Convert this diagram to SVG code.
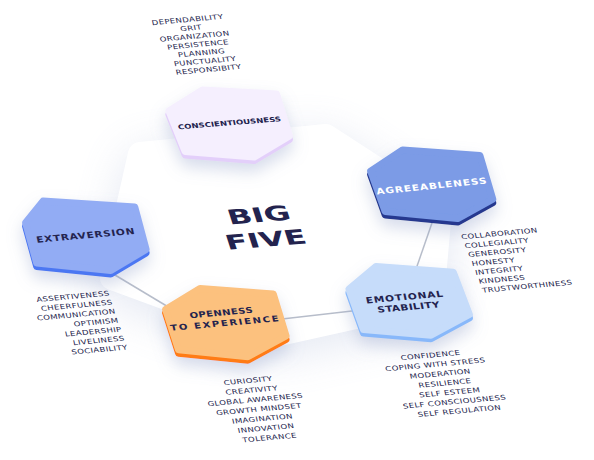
<svg xmlns="http://www.w3.org/2000/svg" xmlns:xlink="http://www.w3.org/1999/xlink" width="594" height="460" viewBox="0 0 594 460">
<style>
.t{font-family:"DejaVu Sans","Liberation Sans",sans-serif;font-size:8.5px;letter-spacing:0.35px;fill:#22234C}
.lb{font-family:"DejaVu Sans","Liberation Sans",sans-serif;font-weight:bold;fill:#23234E}
.hex{stroke-width:7;stroke-linejoin:round}
.c-edge{fill:#E3CFFA;stroke:#E3CFFA}.c-face{fill:#F5EFFE;stroke:#F5EFFE}
.a-edge{fill:#25398F;stroke:#25398F}.a-face{fill:#7B9BE6;stroke:#7B9BE6}
.x-edge{fill:#4C77F2;stroke:#4C77F2}.x-face{fill:#92ACF4;stroke:#92ACF4}
.o-edge{fill:#FF7B12;stroke:#FF7B12}.o-face{fill:#FCC17E;stroke:#FCC17E}
.e-edge{fill:#88B8FA;stroke:#88B8FA}.e-face{fill:#C6DCFA;stroke:#C6DCFA}
.conn{stroke:#B7BDCA;stroke-width:1.5;fill:none}
</style>
<defs>
<filter id="sh" x="-40%" y="-40%" width="180%" height="200%">
<feDropShadow dx="0" dy="8" stdDeviation="8" flood-color="#8C9AC6" flood-opacity="0.35"/>
</filter>
<filter id="blur" x="-30%" y="-30%" width="160%" height="160%">
<feGaussianBlur stdDeviation="22"/>
</filter>
<polygon id="hc" points="202.5,91.4 276.6,95.4 289.4,137.5 254.3,158.5 185.1,152.9 168.9,112.5"/>
<polygon id="ha" points="402.6,151.4 479.9,157 492.8,200.8 457.6,220.1 385.2,213 370.6,172.6"/>
<polygon id="hx" points="43,202.6 134.8,208.6 146.1,250.9 110.8,271.9 36.7,264.6 25.6,224.2"/>
<polygon id="ho" points="200,290 273.3,295.4 286.1,337.4 247.9,358.3 178.5,351.3 165.6,311"/>
<polygon id="he" points="376,268 453.3,273.8 469.4,315.9 431,336.7 363.4,331.1 348.9,290.8"/>
<polygon id="big" points="140,154 326,136 440,210 432,300 270,336 112,278"/>
</defs>
<rect width="594" height="460" fill="#FFFFFF"/>
<g id="center">
<use xlink:href="#big" fill="#C3CCE3" stroke="#C3CCE3" stroke-width="24" stroke-linejoin="round" opacity="0.45" filter="url(#blur)" y="10"/>
<use xlink:href="#big" fill="#FFFFFF" stroke="#FFFFFF" stroke-width="24" stroke-linejoin="round"/>
<text class="lb" font-size="32" text-anchor="middle" transform="matrix(1 -0.08 0.2 0.62 261 222)">BIG</text>
<text class="lb" font-size="32" text-anchor="middle" transform="matrix(1 -0.08 0.2 0.62 268 246.5)">FIVE</text>
</g>
<g id="connectors">
<line class="conn" x1="110" y1="272" x2="170" y2="308"/>
<line class="conn" x1="282" y1="319" x2="352" y2="311"/>
<line class="conn" x1="433" y1="220" x2="415" y2="272"/>
</g>
<g id="conscientiousness">
<g filter="url(#sh)">
<use xlink:href="#hc" class="hex c-edge" y="2"/>
<use xlink:href="#hc" class="hex c-face" y="-1.5"/>
</g>
<text class="lb" font-size="8.5" text-anchor="middle" textLength="103" transform="matrix(1 -0.08 0.18 0.78 230 125.3)">CONSCIENTIOUSNESS</text>
<text class="t" text-anchor="middle" transform="matrix(1 -0.09 0.18 0.78 188 22)">DEPENDABILITY</text>
<text class="t" text-anchor="middle" transform="matrix(1 -0.09 0.18 0.78 191.5 30.3)">GRIT</text>
<text class="t" text-anchor="middle" transform="matrix(1 -0.09 0.18 0.78 195 38.6)">ORGANIZATION</text>
<text class="t" text-anchor="middle" transform="matrix(1 -0.09 0.18 0.78 198.5 46.9)">PERSISTENCE</text>
<text class="t" text-anchor="middle" transform="matrix(1 -0.09 0.18 0.78 202 55.2)">PLANNING</text>
<text class="t" text-anchor="middle" transform="matrix(1 -0.09 0.18 0.78 205.5 63.5)">PUNCTUALITY</text>
<text class="t" text-anchor="middle" transform="matrix(1 -0.09 0.18 0.78 209 71.8)">RESPONSIBITY</text>
</g>
<g id="agreeableness">
<g filter="url(#sh)">
<use xlink:href="#ha" class="hex a-edge" y="2"/>
<use xlink:href="#ha" class="hex a-face" y="-1.5"/>
</g>
<text class="lb" font-size="10.5" style="fill:#FFFFFF" text-anchor="middle" textLength="110" transform="matrix(1 -0.1 0.18 0.8 432 189)">AGREEABLENESS</text>
<text class="t" transform="matrix(1 -0.09 0.18 0.78 461.7 239.3)">COLLABORATION</text>
<text class="t" transform="matrix(1 -0.09 0.18 0.78 465.2 248.2)">COLLEGIALITY</text>
<text class="t" transform="matrix(1 -0.09 0.18 0.78 468.7 257.1)">GENEROSITY</text>
<text class="t" transform="matrix(1 -0.09 0.18 0.78 472.2 266)">HONESTY</text>
<text class="t" transform="matrix(1 -0.09 0.18 0.78 475.7 274.9)">INTEGRITY</text>
<text class="t" transform="matrix(1 -0.09 0.18 0.78 479.2 283.8)">KINDNESS</text>
<text class="t" transform="matrix(1 -0.09 0.18 0.78 482.7 292.7)">TRUSTWORTHINESS</text>
</g>
<g id="extraversion">
<g filter="url(#sh)">
<use xlink:href="#hx" class="hex x-edge" y="2"/>
<use xlink:href="#hx" class="hex x-face" y="-1.5"/>
</g>
<text class="lb" font-size="10.5" text-anchor="middle" textLength="98" transform="matrix(1 -0.09 0.18 0.8 86 238.3)">EXTRAVERSION</text>
<text class="t" text-anchor="end" transform="matrix(1 -0.09 0.18 0.78 110 295.5)">ASSERTIVENESS</text>
<text class="t" text-anchor="end" transform="matrix(1 -0.09 0.18 0.78 113 304.5)">CHEERFULNESS</text>
<text class="t" text-anchor="end" transform="matrix(1 -0.09 0.18 0.78 116 313.5)">COMMUNICATION</text>
<text class="t" text-anchor="end" transform="matrix(1 -0.09 0.18 0.78 119 322.5)">OPTIMISM</text>
<text class="t" text-anchor="end" transform="matrix(1 -0.09 0.18 0.78 122 331.5)">LEADERSHIP</text>
<text class="t" text-anchor="end" transform="matrix(1 -0.09 0.18 0.78 125 340.5)">LIVELINESS</text>
<text class="t" text-anchor="end" transform="matrix(1 -0.09 0.18 0.78 128 349.5)">SOCIABILITY</text>
</g>
<g id="openness">
<g filter="url(#sh)">
<use xlink:href="#ho" class="hex o-edge" y="2"/>
<use xlink:href="#ho" class="hex o-face" y="-1.5"/>
</g>
<text class="lb" font-size="10" text-anchor="middle" textLength="63" transform="matrix(1 -0.09 0.18 0.8 221.7 315.5)">OPENNESS</text>
<text class="lb" font-size="10" text-anchor="middle" textLength="108" transform="matrix(1 -0.09 0.18 0.8 225 326)">TO EXPERIENCE</text>
<text class="t" text-anchor="middle" transform="matrix(1 -0.09 0.18 0.78 248.5 383)">CURIOSITY</text>
<text class="t" text-anchor="middle" transform="matrix(1 -0.09 0.18 0.78 252.1 392.5)">CREATIVITY</text>
<text class="t" text-anchor="middle" transform="matrix(1 -0.09 0.18 0.78 255.7 402)">GLOBAL AWARENESS</text>
<text class="t" text-anchor="middle" transform="matrix(1 -0.09 0.18 0.78 259.3 411.5)">GROWTH MINDSET</text>
<text class="t" text-anchor="middle" transform="matrix(1 -0.09 0.18 0.78 262.9 421)">IMAGINATION</text>
<text class="t" text-anchor="middle" transform="matrix(1 -0.09 0.18 0.78 266.5 430.5)">INNOVATION</text>
<text class="t" text-anchor="middle" transform="matrix(1 -0.09 0.18 0.78 270.1 440)">TOLERANCE</text>
</g>
<g id="emotional-stability">
<g filter="url(#sh)">
<use xlink:href="#he" class="hex e-edge" y="2"/>
<use xlink:href="#he" class="hex e-face" y="-1.5"/>
</g>
<text class="lb" font-size="10.5" text-anchor="middle" textLength="77" transform="matrix(1 -0.09 0.18 0.8 405 300)">EMOTIONAL</text>
<text class="lb" font-size="10.5" text-anchor="middle" textLength="62" transform="matrix(1 -0.09 0.18 0.8 409 310)">STABILITY</text>
<text class="t" text-anchor="middle" transform="matrix(1 -0.09 0.18 0.78 431 357.5)">CONFIDENCE</text>
<text class="t" text-anchor="middle" transform="matrix(1 -0.09 0.18 0.78 435.8 366.8)">COPING WITH STRESS</text>
<text class="t" text-anchor="middle" transform="matrix(1 -0.09 0.18 0.78 440.6 376.1)">MODERATION</text>
<text class="t" text-anchor="middle" transform="matrix(1 -0.09 0.18 0.78 445.4 385.4)">RESILIENCE</text>
<text class="t" text-anchor="middle" transform="matrix(1 -0.09 0.18 0.78 450.2 394.7)">SELF ESTEEM</text>
<text class="t" text-anchor="middle" transform="matrix(1 -0.09 0.18 0.78 455 404)">SELF CONSCIOUSNESS</text>
<text class="t" text-anchor="middle" transform="matrix(1 -0.09 0.18 0.78 459.8 413.3)">SELF REGULATION</text>
</g>
</svg>
